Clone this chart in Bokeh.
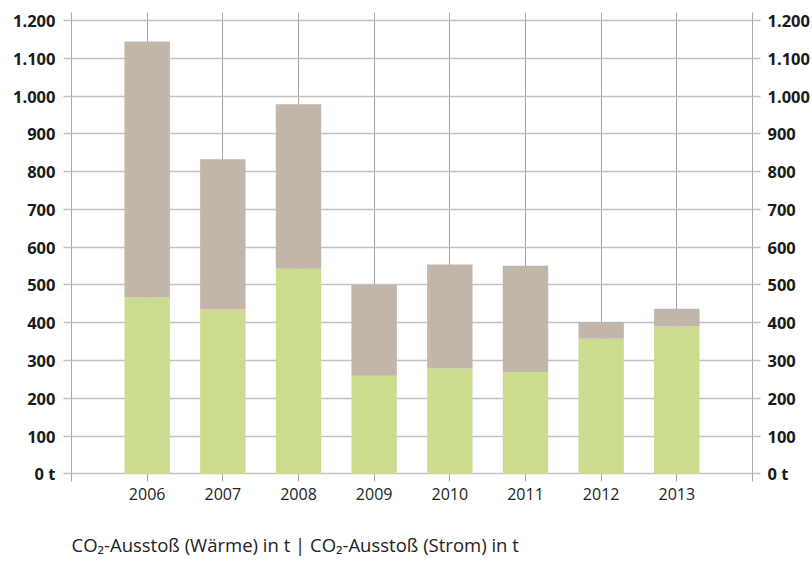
from bokeh.plotting import figure
from bokeh.models import FactorRange, Range1d, LinearAxis, FixedTicker, ColumnDataSource
from bokeh.layouts import column
from bokeh.core.properties import value
from bokeh.embed import file_html
from bokeh.resources import INLINE

years = ["2006", "2007", "2008", "2009", "2010", "2011", "2012", "2013"]
waerme = [467, 435, 543, 260, 279, 270, 358, 390]
strom = [677, 398, 435, 240, 275, 281, 44, 47]
y_ticks = [0, 100, 200, 300, 400, 500, 600, 700, 800, 900, 1000, 1100, 1200]
y_labels = ["0 t", "100", "200", "300", "400", "500", "600", "700", "800", "900",
            "1.000", "1.100", "1.200"]
legend_text = "CO\u2082-Ausstoß (Wärme) in t | CO\u2082-Ausstoß (Strom) in t"

GREEN = "#CCDC8F"
BEIGE = "#C2B5A9"
FONT = "Open Sans"

source = ColumnDataSource(dict(year=years, waerme=waerme, strom=strom))

p = figure(width=812, height=520, output_backend="svg", toolbar_location=None,
           x_range=FactorRange(factors=years, range_padding=0.5, range_padding_units="absolute"),
           y_range=Range1d(-20, 1221),
           min_border_left=71, min_border_right=60, min_border_top=12, min_border_bottom=39)
p.title.text = ""
p.outline_line_color = None
p.background_fill_color = "white"
p.border_fill_color = "white"

p.vbar_stack(["waerme", "strom"], x="year", width=0.6, color=[GREEN, BEIGE],
             line_color=None, source=source)

# grids
p.xgrid.grid_line_color = "#a3a3a3"
p.xgrid.grid_line_width = 1
p.ygrid.ticker = FixedTicker(ticks=y_ticks)
p.ygrid.grid_line_color = "#c2c2c2"
p.ygrid.grid_line_width = 1.3

# x axis
xa = p.xaxis[0]
xa.axis_line_color = None
xa.major_tick_line_color = None
xa.major_tick_out = 0
xa.major_tick_in = 0
xa.minor_tick_line_color = None
xa.major_label_standoff = 6
xa.major_label_text_font = FONT
xa.major_label_text_font_size = "16px"
xa.major_label_text_color = "#222222"

overrides = {t: l for t, l in zip(y_ticks, y_labels)}

def style_y(ax, standoff):
    ax.ticker = FixedTicker(ticks=y_ticks)
    ax.major_label_overrides = overrides
    ax.axis_line_color = "#a8a8a8"
    ax.axis_line_width = 1
    ax.major_tick_line_color = "#c2c2c2"
    ax.major_tick_line_width = 1.3
    ax.major_tick_out = 8
    ax.major_tick_in = 0
    ax.minor_tick_line_color = None
    ax.major_label_standoff = standoff
    ax.major_label_text_font = FONT
    ax.major_label_text_font_style = "bold"
    ax.major_label_text_font_size = "16.5px"
    ax.major_label_text_color = "#1a1a1a"
    ax.major_label_text_baseline = "alphabetic"

style_y(p.yaxis[0], 8)
right = LinearAxis()
style_y(right, 7)
p.add_layout(right, "right")

# legend line below the chart
q = figure(width=812, height=41, output_backend="svg", toolbar_location=None,
           x_range=Range1d(0, 812), y_range=Range1d(0, 41),
           min_border=0, min_border_left=0, min_border_right=0,
           min_border_top=0, min_border_bottom=0,
           x_axis_type=None, y_axis_type=None)
q.title.text = ""
q.outline_line_color = None
q.grid.visible = False
q.text(x=[0], y=[17], text=[legend_text], text_font=value(FONT),
       text_font_size="18.5px", text_color="#222222",
       text_baseline="middle", text_align="left")

layout = column(p, q, spacing=0)
open("out.html", "w").write(file_html(layout, INLINE))
